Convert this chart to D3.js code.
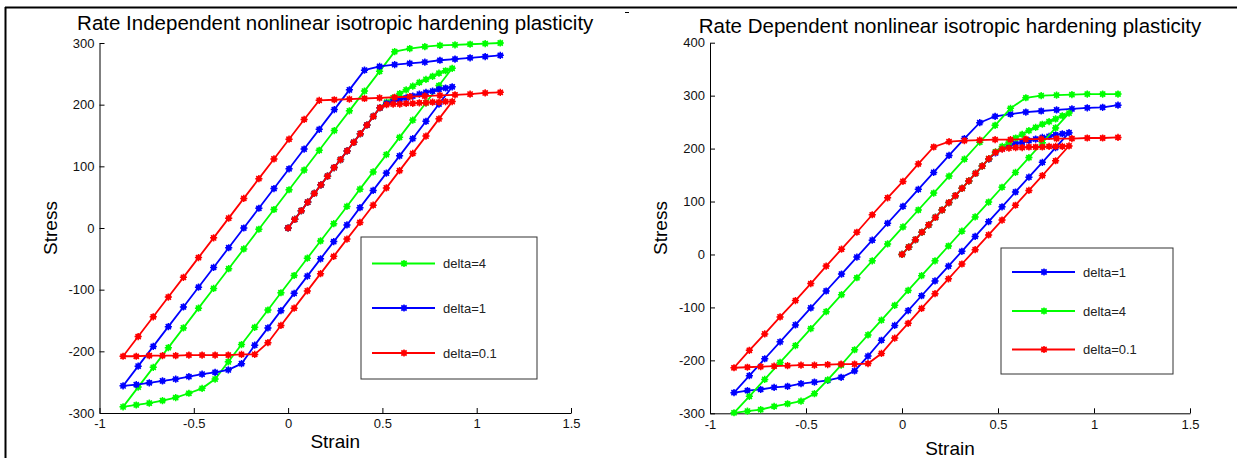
<!DOCTYPE html>
<html><head><meta charset="utf-8">
<script src="https://cdn.jsdelivr.net/npm/d3@7"></script>
<style>
body{margin:0;background:#fff}
text{font-family:"Liberation Sans",Arial,sans-serif}
</style>
</head><body>
<svg id="c" width="1237" height="458"></svg>
<script>
// ---- data ----
const strainPath = [0, .035, .070, .104, .139, .174, .209, .244, .278, .313, .348, .383, .418, .452, .487, .522, .557, .592, .626, .661, .696, .731, .766, .800, .835, .870,
  .800, .731, .661, .591, .521, .451, .381, .312, .242, .172, .102, .032, -.038, -.107, -.177, -.247, -.317, -.387, -.456, -.526, -.596, -.666, -.736, -.805, -.875,
  -.795, -.715, -.635, -.555, -.475, -.395, -.315, -.235, -.155, -.075, .005, .085, .165, .245, .325, .405, .485, .565, .645, .725, .805, .885, .965, 1.045, 1.125];

// Left chart: rate independent
const indepDelta4 = [0, 14, 28, 42, 56, 70, 84, 98, 111, 125, 139, 153, 167, 181, 195, 204, 211, 218, 224, 230, 236, 241, 246, 251, 255, 259,
  231, 203, 175, 147, 119, 91, 63, 35, 7, -21, -49, -77, -105, -133, -161, -189, -217, -245, -260, -268, -275, -280, -284, -287, -290,
  -258, -226, -194, -162, -130, -98, -66, -34, -2, 30, 62, 94, 126, 158, 190, 222, 254, 286, 291, 294, 296, 297, 298, 299, 300];
const indepDelta1 = [0, 14, 28, 42, 56, 70, 84, 98, 111, 125, 139, 153, 167, 181, 195, 202, 205, 208, 211, 214, 217, 220, 222, 225, 227, 229,
  201, 173, 145, 117, 89, 61, 33, 5, -22, -50, -78, -106, -134, -162, -190, -220, -230, -234, -237, -241, -245, -248, -251, -254, -256,
  -224, -192, -160, -128, -96, -64, -32, 0, 32, 64, 96, 128, 160, 192, 224, 256, 262, 265, 267, 269, 272, 274, 276, 278, 280];
const indepDelta01 = [0, 14, 28, 42, 56, 70, 84, 98, 111, 125, 139, 153, 167, 181, 195, 200, 201, 201, 202, 202, 203, 203, 204, 204, 205, 205,
  177, 149, 121, 93, 65, 37, 9, -18, -46, -74, -102, -130, -158, -186, -205, -205, -206, -206, -206, -206, -207, -207, -207, -208, -208,
  -176, -144, -112, -80, -48, -16, 16, 48, 80, 112, 144, 176, 207, 208, 209, 210, 211, 212, 213, 214, 215, 216, 217, 219, 220];

// Right chart: rate dependent
const depDelta1 = [0, 14, 28, 42, 56, 70, 84, 98, 111, 125, 139, 153, 167, 180, 192, 200, 205, 209, 212, 215, 218, 221, 223, 226, 228, 230,
  202, 174, 146, 118, 90, 62, 34, 6, -22, -50, -78, -106, -134, -162, -192, -220, -232, -238, -241, -244, -249, -251, -255, -257, -261,
  -229, -197, -165, -133, -101, -69, -37, -5, 27, 59, 91, 123, 155, 187, 219, 249, 261, 265, 269, 271, 273, 275, 277, 278, 282];
const depDelta4 = [0, 14, 28, 42, 56, 70, 84, 98, 111, 125, 139, 153, 167, 181, 194, 204, 212, 220, 227, 234, 240, 246, 251, 256, 262, 267,
  239, 211, 183, 155, 127, 99, 71, 44, 16, -12, -40, -68, -96, -124, -152, -180, -209, -237, -263, -277, -282, -287, -293, -296, -299,
  -268, -236, -204, -172, -140, -108, -76, -44, -12, 20, 52, 84, 116, 148, 180, 212, 244, 276, 296, 300, 301, 302, 303, 303, 303];
const depDelta01 = [0, 14, 28, 42, 56, 70, 84, 98, 111, 125, 139, 153, 167, 181, 193, 199, 201, 202, 202, 203, 203, 203, 204, 204, 204, 205,
  177, 149, 121, 93, 65, 37, 9, -18, -46, -74, -102, -130, -158, -187, -206, -207, -207, -208, -209, -209, -210, -211, -212, -213, -214,
  -181, -150, -118, -87, -55, -22, 10, 42, 75, 107, 138, 171, 203, 213, 215, 216, 217, 217, 218, 218, 219, 219, 220, 220, 221];

const xTicks = [-1, -0.5, 0, 0.5, 1, 1.5];
const yTicksLeft = [-300, -200, -100, 0, 100, 200, 300];
const yTicksRight = [-300, -200, -100, 0, 100, 200, 300, 400];
const titles = ["Rate Independent nonlinear isotropic hardening plasticity", "Rate Dependent nonlinear isotropic hardening plasticity"];
const legendLeft = ["delta=4", "delta=1", "delta=0.1"];
const legendRight = ["delta=1", "delta=4", "delta=0.1"];

// ---- drawing ----
const svg = d3.select('#c');
svg.append('rect').attr('width', 1237).attr('height', 458).attr('fill', '#fff');
// page frame lines
svg.append('line').attr('x1', 5).attr('x2', 1237).attr('y1', 7.5).attr('y2', 7.5).attr('stroke', '#000').attr('stroke-width', 2);
svg.append('line').attr('x1', 5.5).attr('x2', 5.5).attr('y1', 7).attr('y2', 458).attr('stroke', '#000').attr('stroke-width', 2);
svg.append('line').attr('x1', 625).attr('x2', 629).attr('y1', 12.5).attr('y2', 12.5).attr('stroke', '#000').attr('stroke-width', 1);

const markerPath = "M-3.6,0H3.6M0,-3.6V3.6M-2.6,-2.6L2.6,2.6M-2.6,2.6L2.6,-2.6";

function drawMarker(g, x, y, color) {
  g.append('circle').attr('cx', x).attr('cy', y).attr('r', 2.7).attr('fill', color);
  g.append('path').attr('d', markerPath).attr('transform', `translate(${x},${y})`)
    .attr('stroke', color).attr('stroke-width', 1.5).attr('fill', 'none');
}

const fmt = d => String(d); // plain hyphen-minus like the original

function panel(cfg) {
  const x = d3.scaleLinear().domain([-1, 1.5]).range(cfg.xRange);
  const y = d3.scaleLinear().domain(cfg.yDomain).range(cfg.yRange);
  const g = svg.append('g');

  const xAxis = d3.axisBottom(x).tickValues(xTicks).tickSizeInner(-5).tickSizeOuter(0).tickPadding(6).tickFormat(fmt);
  const yAxis = d3.axisLeft(y).tickValues(cfg.yTicks).tickSizeInner(-5).tickSizeOuter(0).tickPadding(5).tickFormat(fmt);

  const gx = g.append('g').attr('transform', `translate(0,${cfg.yRange[0]})`).call(xAxis);
  const gy = g.append('g').attr('transform', `translate(${cfg.xRange[0]},0)`).call(yAxis);
  [gx, gy].forEach(a => {
    a.selectAll('text').attr('font-size', 13).attr('fill', '#111').attr('font-family', '"Liberation Sans",Arial,sans-serif');
    a.selectAll('line,path').attr('stroke', '#000');
  });

  const line = d3.line().x(d => x(d[0])).y(d => y(d[1]));
  cfg.series.forEach(s => {
    const pts = strainPath.map((e, i) => [e, s.values[i]]);
    g.append('path').attr('d', line(pts)).attr('fill', 'none').attr('stroke', s.color).attr('stroke-width', 1.8);
    const mg = g.append('g');
    pts.forEach(p => drawMarker(mg, x(p[0]), y(p[1]), s.color));
  });

  // title
  g.append('text').attr('x', (cfg.xRange[0] + cfg.xRange[1]) / 2).attr('y', cfg.titleY)
    .attr('text-anchor', 'middle').attr('font-size', 20.5).attr('fill', '#000').text(cfg.title);
  // axis labels
  g.append('text').attr('x', (cfg.xRange[0] + cfg.xRange[1]) / 2).attr('y', cfg.xLabelY)
    .attr('text-anchor', 'middle').attr('font-size', 19).attr('fill', '#000').text('Strain');
  g.append('text').attr('transform', `translate(${cfg.yLabelX},${(cfg.yRange[0] + cfg.yRange[1]) / 2}) rotate(-90)`)
    .attr('text-anchor', 'middle').attr('font-size', 19).attr('fill', '#000').text('Stress');

  // legend
  const L = cfg.legend;
  g.append('rect').attr('x', L.x).attr('y', L.y).attr('width', L.w).attr('height', L.h)
    .attr('fill', '#fff').attr('stroke', '#333').attr('stroke-width', 1);
  cfg.legendOrder.forEach((name, i) => {
    const s = cfg.series.find(t => t.name === name);
    const ly = L.rows[i];
    g.append('line').attr('x1', L.x + 11).attr('x2', L.x + 74).attr('y1', ly).attr('y2', ly)
      .attr('stroke', s.color).attr('stroke-width', 1.8);
    drawMarker(g, L.x + 43, ly, s.color);
    g.append('text').attr('x', L.x + 82).attr('y', ly).attr('dy', '0.35em')
      .attr('font-size', 13).attr('fill', '#222').text(name);
  });
}

panel({
  xRange: [99.5, 571], yDomain: [-300, 300], yRange: [413, 43], yTicks: yTicksLeft,
  title: titles[0], titleY: 30, xLabelY: 448, yLabelX: 57,
  legend: {x: 361, y: 237, w: 176, h: 142, rows: [263.5, 308, 353]},
  legendOrder: legendLeft,
  series: [
    {name: "delta=4", color: "#00ff00", values: indepDelta4},
    {name: "delta=1", color: "#0000ff", values: indepDelta1},
    {name: "delta=0.1", color: "#ff0000", values: indepDelta01}
  ]
});

panel({
  xRange: [710, 1190], yDomain: [-300, 400], yRange: [413.3, 42.7], yTicks: yTicksRight,
  title: titles[1], titleY: 33, xLabelY: 455, yLabelX: 667,
  legend: {x: 1001, y: 248, w: 172, h: 126, rows: [272, 311, 349.5]},
  legendOrder: legendRight,
  series: [
    {name: "delta=1", color: "#0000ff", values: depDelta1},
    {name: "delta=4", color: "#00ff00", values: depDelta4},
    {name: "delta=0.1", color: "#ff0000", values: depDelta01}
  ]
});
</script>
</body></html>
